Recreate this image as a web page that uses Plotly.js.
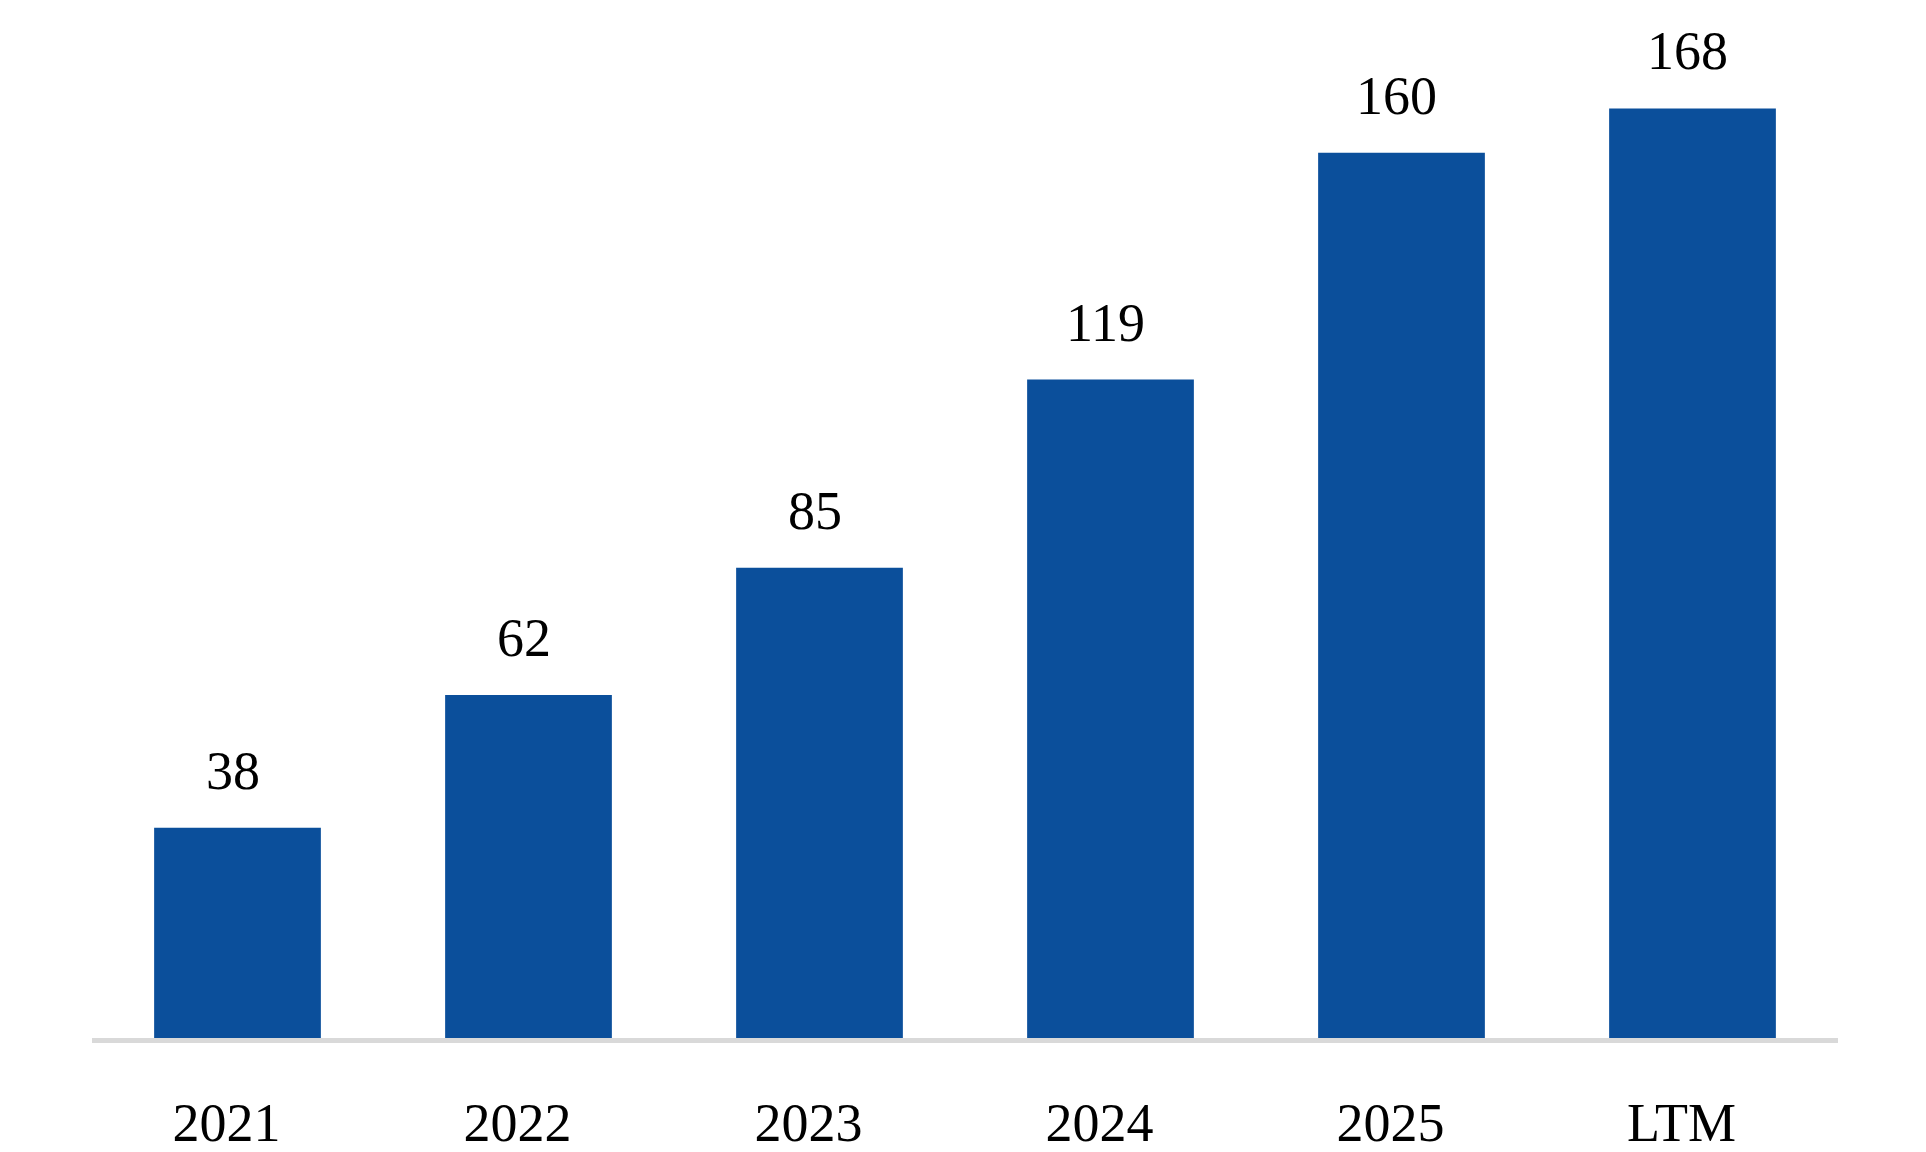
<!DOCTYPE html>
<html>
<head>
<meta charset="utf-8">
<script src="https://cdn.plot.ly/plotly-3.0.1.min.js"></script>
<style>
  html, body { margin: 0; padding: 0; background: #ffffff; }
  #bar_chart { width: 1926px; height: 1152px; }
</style>
</head>
<body>
<div id="bar_chart"></div>
<script>
// periods along the x axis and the value shown on each bar
var periods = ['2021', '2022', '2023', '2024', '2025', 'LTM'];
var values = [38, 62, 85, 119, 160, 168];

var bar_color = '#0b4f9b';
var label_font = { family: 'Liberation Serif, Times New Roman, serif', size: 54, color: '#000000' };

var bars = {
  x: periods,
  y: values,
  type: 'bar',
  marker: { color: bar_color },
  hoverinfo: 'none'
};

// value labels sit above each bar, a little left of centre like the original
// (category index is used for x so the year strings are not read as numbers)
var labels = [];
for (var i = 0; i < periods.length; i++) {
  labels.push({
    x: i,
    y: values[i],
    xref: 'x',
    yref: 'y',
    text: String(values[i]),
    showarrow: false,
    yanchor: 'bottom',
    yshift: 25,
    xshift: -5,
    font: label_font
  });
}

var layout = {
  width: 1926,
  height: 1152,
  margin: { l: 92, r: 88, t: 42, b: 114 },
  paper_bgcolor: '#ffffff',
  plot_bgcolor: '#ffffff',
  showlegend: false,
  bargap: 0.427,
  xaxis: {
    type: 'category',
    range: [-0.5, periods.length - 0.5],
    autorange: false,
    showline: true,
    linecolor: '#d9d9d9',
    linewidth: 5,
    showgrid: false,
    zeroline: false,
    ticks: '',
    ticklabelstandoff: 33,
    ticklabelshift: -11,
    tickfont: label_font
  },
  yaxis: {
    range: [0, 180],
    autorange: false,
    visible: false,
    showgrid: false,
    zeroline: false
  },
  annotations: labels
};

Plotly.newPlot('bar_chart', [bars], layout, { displayModeBar: false, staticPlot: true });
</script>
</body>
</html>
